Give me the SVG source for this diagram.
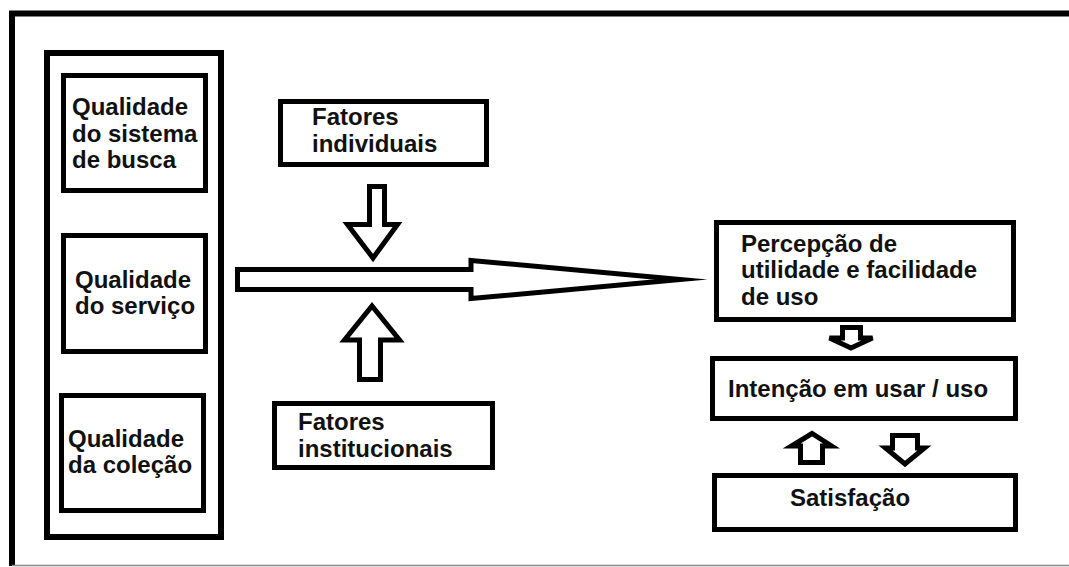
<svg xmlns="http://www.w3.org/2000/svg" width="1069" height="567" viewBox="0 0 1069 567">
<style>
.box{fill:#fff;stroke:#000;stroke-width:5}
.arr{fill:#fff;stroke:#000;stroke-width:5;stroke-linejoin:miter}
.t{font-family:"Liberation Sans",Arial,sans-serif;font-weight:bold;font-size:24px;fill:#111}
</style>
<rect width="1069" height="567" fill="#fff"/>
<g id="frame">
<path d="M12,566 V13.5 H1069" fill="none" stroke="#000" stroke-width="6"/>
<line x1="12" y1="565.5" x2="1069" y2="565.5" stroke="#888" stroke-width="1.5"/>
</g>
<g id="column">
<rect x="47" y="53" width="174" height="484" fill="none" stroke="#000" stroke-width="6"/>
</g>
<g id="n1">
<rect class="box" x="63.5" y="75.5" width="142" height="115"/>
<text class="t" x="72" y="115">Qualidade</text>
<text class="t" x="72" y="142">do sistema</text>
<text class="t" x="72" y="168">de busca</text>
</g>
<g id="n2">
<rect class="box" x="63.5" y="235.5" width="142" height="116"/>
<text class="t" x="75" y="288">Qualidade</text>
<text class="t" x="75" y="314">do serviço</text>
</g>
<g id="n3">
<rect class="box" x="61.5" y="395.5" width="142" height="115"/>
<text class="t" x="68" y="447">Qualidade</text>
<text class="t" x="68" y="473">da coleção</text>
</g>
<g id="n4">
<rect class="box" x="280.5" y="101.5" width="206" height="63"/>
<text class="t" x="312" y="125">Fatores</text>
<text class="t" x="312" y="152">individuais</text>
</g>
<g id="n5">
<rect class="box" x="274.5" y="403.5" width="218" height="64"/>
<text class="t" x="298" y="430">Fatores</text>
<text class="t" x="298" y="457">institucionais</text>
</g>
<g id="n6">
<rect class="box" x="716.5" y="222.5" width="297" height="97"/>
<text class="t" x="741" y="252">Percepção de</text>
<text class="t" x="741" y="278">utilidade e facilidade</text>
<text class="t" x="741" y="305">de uso</text>
</g>
<g id="n7">
<rect class="box" x="712.5" y="358.5" width="303" height="60"/>
<text class="t" x="728" y="397">Intenção em usar / uso</text>
</g>
<g id="n8">
<rect class="box" x="714.5" y="475.5" width="301" height="54"/>
<text class="t" x="790" y="506">Satisfação</text>
</g>
<g id="connectors">
<polygon class="arr" style="stroke-miterlimit:12" points="237.5,269.5 471,269.5 471,260.5 680,279.5 471,298.5 471,289.5 237.5,289.5"/>
<polygon class="arr" points="369.5,186.5 384.5,186.5 384.5,224.5 397.5,224.5 373,258 347.5,224.5 369.5,224.5"/>
<polygon class="arr" points="359.5,379.5 380.5,379.5 380.5,340 399.5,340 372,306 344.5,340 359.5,340"/>
<polygon class="arr" points="842.5,327.5 860.5,327.5 860.5,338 872.5,338 851,348 829.5,338 842.5,338"/>
<polygon class="arr" points="800.5,462.5 822.5,462.5 822.5,446 831.5,446 812,433.5 791.5,446 800.5,446"/>
<polygon class="arr" points="892.5,435.5 917.5,435.5 917.5,448 924.5,448 905,464 885.5,448 892.5,448"/>
</g>
</svg>
